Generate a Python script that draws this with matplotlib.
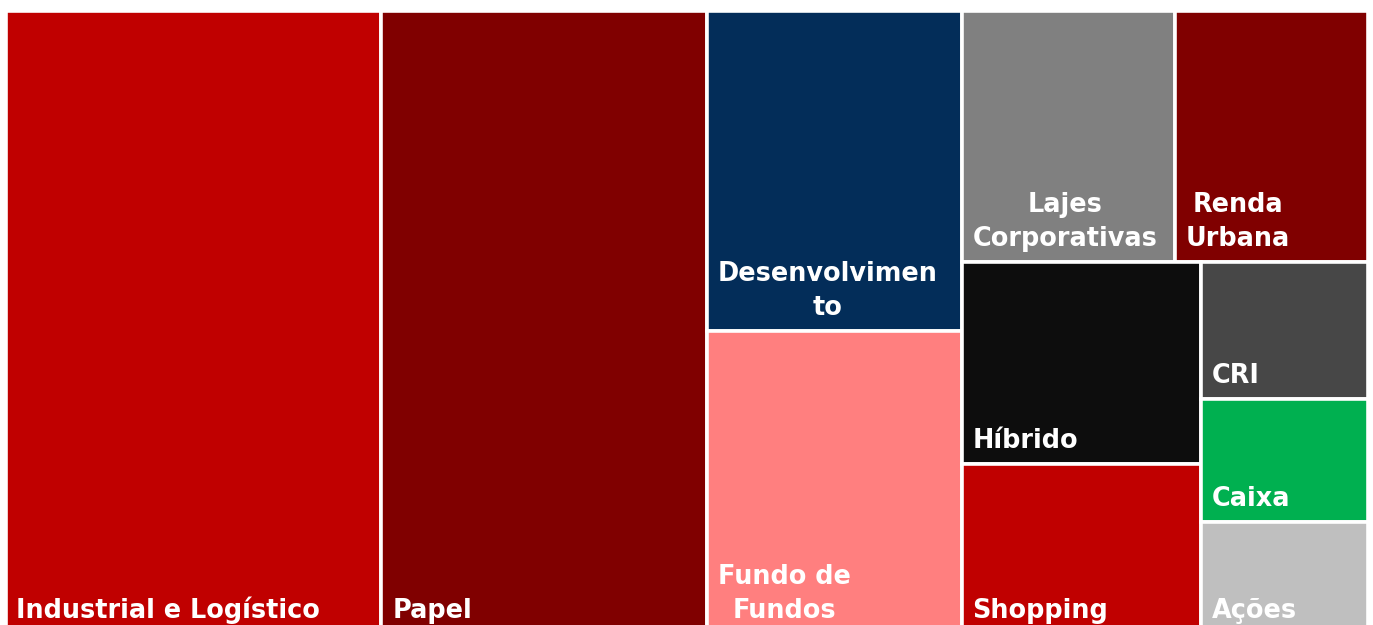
import matplotlib
matplotlib.use("Agg")
import matplotlib.pyplot as plt
from matplotlib.patches import Rectangle

# ---- data (percent of portfolio) ----
categories = ["Industrial e Logístico", "Papel", "Desenvolvimento", "Fundo de Fundos",
              "Lajes Corporativas", "Renda Urbana", "Híbrido", "Shopping",
              "CRI", "Caixa", "Ações"]
labels = ["Industrial e Logístico", "Papel", "Desenvolvimen\nto", "Fundo de\nFundos",
          "Lajes\nCorporativas", "Renda\nUrbana", "Híbrido", "Shopping",
          "CRI", "Caixa", "Ações"]
values = [27.6, 23.9, 9.6, 9.1, 6.3, 5.7, 5.7, 4.8, 2.7, 2.4, 2.2]
colors = ["#C00000", "#800000", "#032D59", "#FF7F7F", "#808080", "#800000",
          "#0D0D0D", "#C00000", "#474747", "#00B050", "#BFBFBF"]


# ---- squarified treemap layout ----
def normalize(sizes, dx, dy):
    tot = float(sum(sizes))
    return [s * dx * dy / tot for s in sizes]


def layoutrow(sizes, x, y, dx, dy):
    width = sum(sizes) / dy
    out = []
    for s in sizes:
        out.append((x, y, width, s / width))
        y += s / width
    return out


def layoutcol(sizes, x, y, dx, dy):
    height = sum(sizes) / dx
    out = []
    for s in sizes:
        out.append((x, y, s / height, height))
        x += s / height
    return out


def layout(sizes, x, y, dx, dy):
    return layoutrow(sizes, x, y, dx, dy) if dx >= dy else layoutcol(sizes, x, y, dx, dy)


def leftover(sizes, x, y, dx, dy):
    if dx >= dy:
        w = sum(sizes) / dy
        return x + w, y, dx - w, dy
    h = sum(sizes) / dx
    return x, y + h, dx, dy - h


def worst(sizes, x, y, dx, dy):
    return max(max(r[2] / r[3], r[3] / r[2]) for r in layout(sizes, x, y, dx, dy))


def squarify(sizes, x, y, dx, dy):
    if not sizes:
        return []
    if len(sizes) == 1:
        return layout(sizes, x, y, dx, dy)
    i = 1
    while i < len(sizes) and worst(sizes[:i], x, y, dx, dy) >= worst(sizes[:i + 1], x, y, dx, dy):
        i += 1
    cur, rem = sizes[:i], sizes[i:]
    lx, ly, ldx, ldy = leftover(cur, x, y, dx, dy)
    return layout(cur, x, y, dx, dy) + squarify(rem, lx, ly, ldx, ldy)


W, H = 1362.0, 623.5
rects = squarify(normalize(values, W, H), 0, 0, W, H)

fig = plt.figure(figsize=(13.73, 6.25), dpi=100)
top = 1 - 10.5 / 625
ax = fig.add_axes([5.5 / 1373, top - H / 625, W / 1373, H / 625])
ax.set_xlim(0, W)
ax.set_ylim(H, 0)
ax.axis("off")

for (x, y, w, h), lab, col in zip(rects, labels, colors):
    ax.add_patch(Rectangle((x, y), w, h, facecolor=col, edgecolor="white",
                           linewidth=2.6, clip_on=False))
    ax.text(x + 11, y + h - 16, lab, ha="left", va="baseline", multialignment="center",
            color="white", fontsize=18.4, fontweight="bold", family="DejaVu Sans",
            linespacing=1.39)

fig.savefig("out.png", dpi=100)
